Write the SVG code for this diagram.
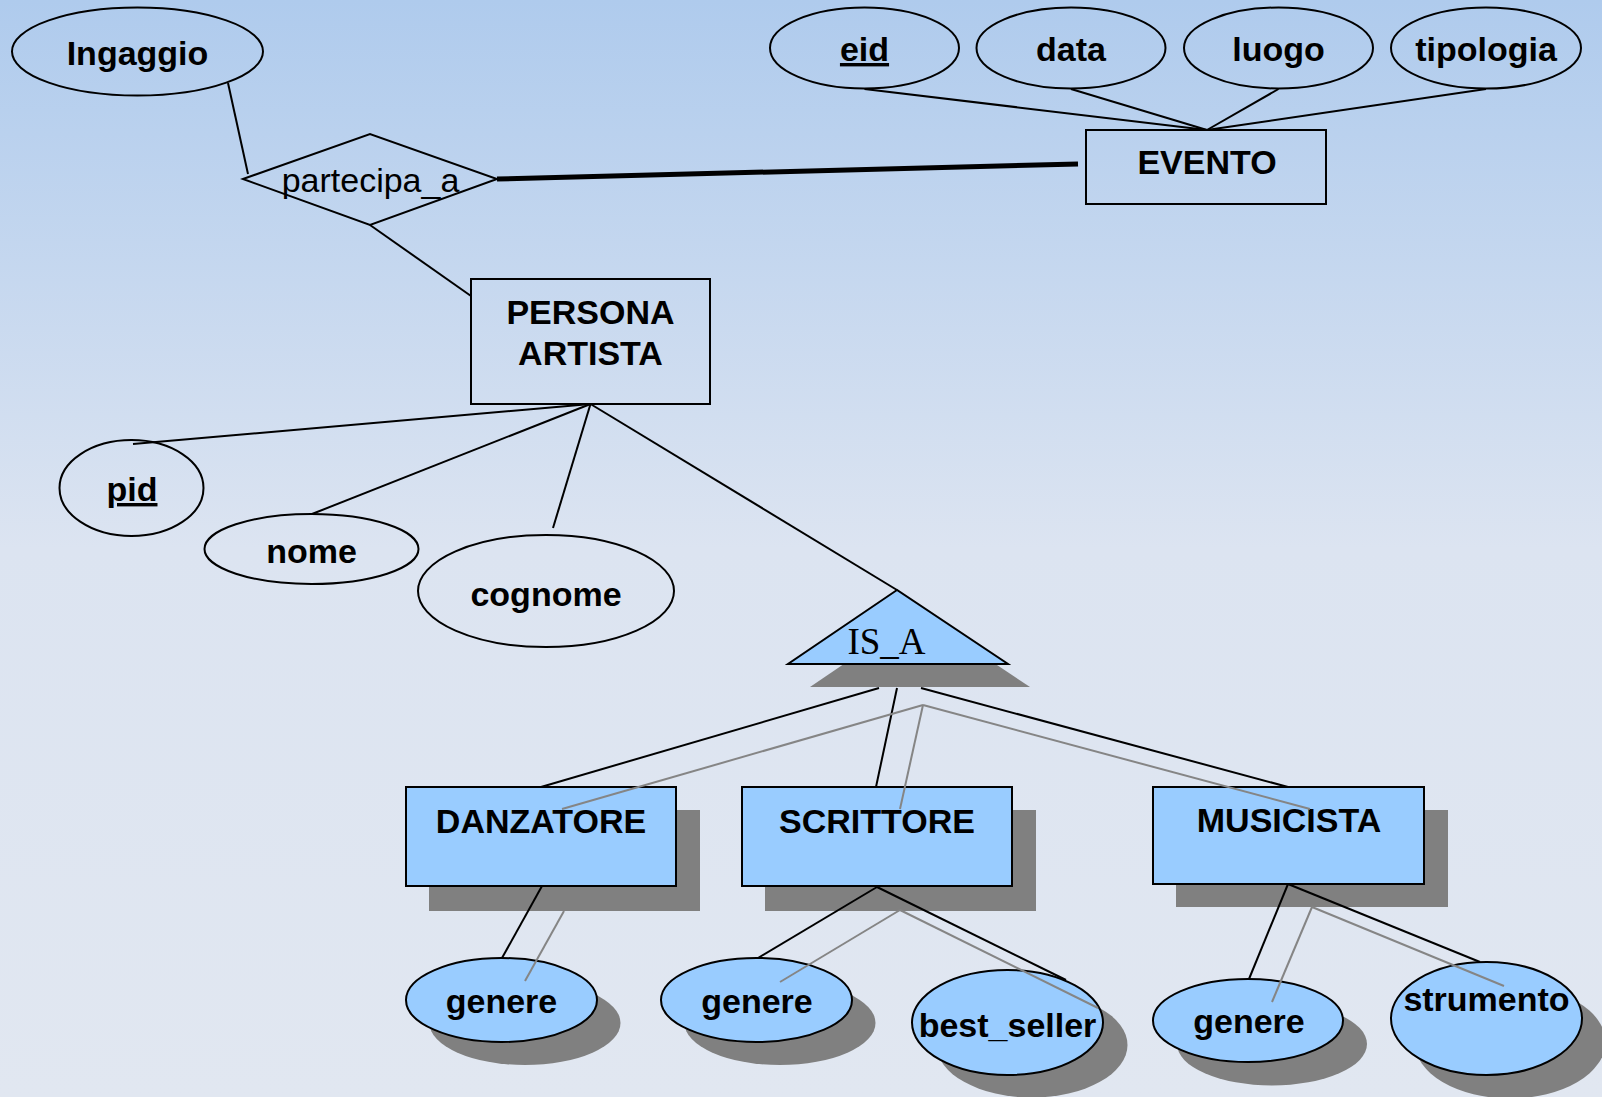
<svg xmlns="http://www.w3.org/2000/svg" width="1602" height="1097" viewBox="0 0 1602 1097">
<defs>
<linearGradient id="bg" x1="0" y1="0" x2="0" y2="1">
<stop offset="0" stop-color="#afcbed"/>
<stop offset="0.5" stop-color="#dce4f1"/>
<stop offset="1" stop-color="#e1e7f1"/>
</linearGradient>
<style>
.t{font-family:"Liberation Sans",Arial,sans-serif;font-weight:bold;font-size:34px;text-anchor:middle;fill:#000}
.n{font-family:"Liberation Sans",Arial,sans-serif;font-size:34px;text-anchor:middle;fill:#000}
.s{font-family:"Liberation Serif","Times New Roman",serif;font-size:37px;text-anchor:middle;fill:#000}
.o{fill:none;stroke:#000;stroke-width:2}
.b{fill:#99ccff;stroke:#000;stroke-width:2}
.sh{fill:#808080;stroke:none}
.c line{stroke:#000;stroke-width:2}
.c .g{stroke:#858585;stroke-width:2}
</style>
</defs>
<rect x="0" y="0" width="1602" height="1097" fill="url(#bg)"/>

<g id="ingaggio"><ellipse class="o" cx="137.5" cy="51.5" rx="125.5" ry="44"/><text class="t" x="137.5" y="65">Ingaggio</text></g>
<g id="partecipa_a"><polygon class="o" points="243,179 370,134 497,179 370,225"/><text class="n" x="370.5" y="192">partecipa_a</text></g>
<g id="evento"><rect class="o" x="1086" y="130" width="240" height="74"/><text class="t" x="1207" y="174">EVENTO</text></g>
<g id="eid"><ellipse class="o" cx="864.5" cy="48" rx="94.5" ry="40.5"/><text class="t" x="864.5" y="61" text-decoration="underline">eid</text></g>
<g id="data"><ellipse class="o" cx="1071" cy="48" rx="94.5" ry="40.5"/><text class="t" x="1071" y="61">data</text></g>
<g id="luogo"><ellipse class="o" cx="1278.5" cy="48" rx="94.5" ry="40.5"/><text class="t" x="1278.5" y="61">luogo</text></g>
<g id="tipologia"><ellipse class="o" cx="1486" cy="48" rx="95" ry="40.5"/><text class="t" x="1486" y="61">tipologia</text></g>
<g id="persona_artista"><rect class="o" x="471" y="279" width="239" height="125"/><text class="t" x="590.5" y="324">PERSONA</text><text class="t" x="590.5" y="365">ARTISTA</text></g>
<g id="pid"><ellipse class="o" cx="131.5" cy="488" rx="72" ry="48"/><text class="t" x="132" y="501" text-decoration="underline">pid</text></g>
<g id="nome"><ellipse class="o" cx="311.5" cy="549" rx="107" ry="35"/><text class="t" x="311.5" y="563">nome</text></g>
<g id="cognome"><ellipse class="o" cx="546" cy="591" rx="128" ry="56"/><text class="t" x="546" y="606">cognome</text></g>
<g id="is_a"><polygon class="sh" points="919,613 810,687 1030,687"/><polygon class="b" points="897,590 788,664 1008,664"/><text class="s" x="886.5" y="654">IS_A</text></g>
<g id="danzatore"><rect class="sh" x="429" y="810" width="271" height="101"/><rect class="b" x="406" y="787" width="270" height="99"/><text class="t" x="541" y="833">DANZATORE</text></g>
<g id="scrittore"><rect class="sh" x="765" y="810" width="271" height="101"/><rect class="b" x="742" y="787" width="270" height="99"/><text class="t" x="877" y="833">SCRITTORE</text></g>
<g id="musicista"><rect class="sh" x="1176" y="810" width="272" height="97"/><rect class="b" x="1153" y="787" width="271" height="97"/><text class="t" x="1289" y="832">MUSICISTA</text></g>
<g id="genere_danzatore"><ellipse class="sh" cx="525" cy="1023" rx="95.5" ry="42"/><ellipse class="b" cx="501.5" cy="1000" rx="95.5" ry="42"/><text class="t" x="501.5" y="1013">genere</text></g>
<g id="genere_scrittore"><ellipse class="sh" cx="780" cy="1023" rx="95.5" ry="42"/><ellipse class="b" cx="756.5" cy="1000" rx="95.5" ry="42"/><text class="t" x="757" y="1013">genere</text></g>
<g id="best_seller"><ellipse class="sh" cx="1032" cy="1045" rx="95.5" ry="52.5"/><ellipse class="b" cx="1007.5" cy="1022.5" rx="95.5" ry="52.5"/><text class="t" x="1007.5" y="1037">best_seller</text></g>
<g id="genere_musicista"><ellipse class="sh" cx="1272" cy="1044" rx="95" ry="41.5"/><ellipse class="b" cx="1248" cy="1020.5" rx="95" ry="41.5"/><text class="t" x="1249" y="1033">genere</text></g>
<g id="strumento"><ellipse class="sh" cx="1510" cy="1042" rx="95.5" ry="56.5"/><ellipse class="b" cx="1486.5" cy="1018.5" rx="95.5" ry="56.5"/><text class="t" x="1486.5" y="1011">strumento</text></g>

<g id="connectors" class="c">
<line x1="228" y1="83" x2="248" y2="174"/>
<line x1="497" y1="179" x2="1078" y2="164" style="stroke-width:5"/>
<line x1="370" y1="225" x2="471" y2="296"/>
<line x1="864.5" y1="89" x2="1207" y2="130"/>
<line x1="1071" y1="89" x2="1207" y2="130"/>
<line x1="1278.5" y1="89" x2="1207" y2="130"/>
<line x1="1486" y1="89" x2="1207" y2="130"/>
<line x1="590.5" y1="404" x2="133" y2="444"/>
<line x1="590.5" y1="404" x2="312" y2="514"/>
<line x1="590.5" y1="404" x2="553" y2="528"/>
<line x1="590.5" y1="404" x2="897" y2="590"/>
<line x1="879" y1="688" x2="541" y2="787"/>
<line x1="897" y1="688" x2="876" y2="787"/>
<line x1="921" y1="688" x2="1288" y2="787"/>
<line class="g" x1="923" y1="705" x2="562" y2="809"/>
<line class="g" x1="923" y1="705" x2="900" y2="809"/>
<line class="g" x1="923" y1="705" x2="1310" y2="809"/>
<line x1="542" y1="886" x2="502" y2="958"/>
<line class="g" x1="564" y1="911" x2="525" y2="981"/>
<line x1="877" y1="887" x2="758" y2="958"/>
<line class="g" x1="900" y1="910" x2="780" y2="982"/>
<line x1="877" y1="887" x2="1066" y2="980"/>
<line class="g" x1="900" y1="910" x2="1098" y2="1008"/>
<line x1="1288" y1="884" x2="1249" y2="979"/>
<line class="g" x1="1312" y1="907" x2="1272" y2="1002"/>
<line x1="1288" y1="884" x2="1480" y2="962"/>
<line class="g" x1="1312" y1="907" x2="1504" y2="986"/>
</g>
</svg>
